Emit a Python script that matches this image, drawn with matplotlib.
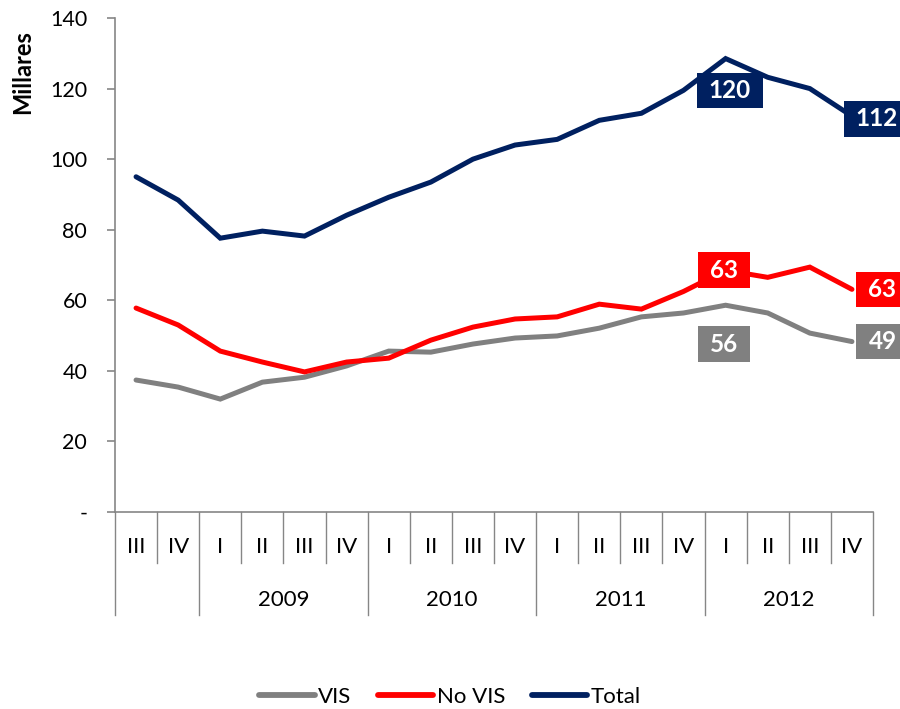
import matplotlib.pyplot as plt
from matplotlib.lines import Line2D
from matplotlib.path import Path

plt.rcParams["font.family"] = ["Lato", "DejaVu Sans"]

# Quarter labels and year groups (first two quarters belong to 2008, unlabeled)
QUARTERS = ["III", "IV", "I", "II", "III", "IV", "I", "II", "III", "IV",
            "I", "II", "III", "IV", "I", "II", "III", "IV"]
YEAR_LABELS = ["", "2009", "2010", "2011", "2012"]
YEAR_SIZES = [2, 4, 4, 4, 4]

# Series values, thousands
VIS = [37.4, 35.4, 32.0, 36.8, 38.2, 41.4, 45.6, 45.3, 47.6, 49.3,
       49.9, 52.1, 55.3, 56.4, 58.6, 56.4, 50.7, 48.3]
NO_VIS = [57.8, 53.0, 45.6, 42.5, 39.7, 42.5, 43.6, 48.7, 52.4, 54.7,
          55.3, 58.9, 57.5, 62.5, 68.5, 66.5, 69.4, 63.1]
TOTAL = [95.0, 88.4, 77.6, 79.6, 78.2, 84.1, 89.2, 93.5, 100.0, 104.0,
         105.6, 111.0, 113.0, 119.5, 128.5, 123.2, 120.0, 112.2]

# Data labels shown in boxes: (series, index, text)
LABELS = [
    ("Total", 14, "120"), ("Total", 17, "112"),
    ("No VIS", 14, "63"), ("No VIS", 17, "63"),
    ("VIS", 14, "56"), ("VIS", 17, "49"),
]

YTICKS = [0, 20, 40, 60, 80, 100, 120, 140]
YTICK_LABELS = ["-", "20", "40", "60", "80", "100", "120", "140"]

COLORS = {"VIS": "#808080", "No VIS": "#FF0000", "Total": "#002060"}
SERIES = {"VIS": VIS, "No VIS": NO_VIS, "Total": TOTAL}
AXIS_GRAY = "#868686"

# label offsets in points (dx, dy) from their data point
LABEL_OFFSETS = {
    ("Total", 14): (3, -23), ("Total", 17): (18, -2),
    ("No VIS", 14): (-1, 0), ("No VIS", 17): (22, 0),
    ("VIS", 14): (-1, -28), ("VIS", 17): (22, 0),
}


def label_box(x0, y0, width, height, mutation_size):
    """Rectangle with wider horizontal than vertical padding."""
    padx = 0.50 * mutation_size
    pady = 0.26 * mutation_size
    x0, y0 = x0 - padx, y0 - pady
    x1, y1 = x0 + width + 2 * padx, y0 + height + 2 * pady
    return Path([(x0, y0), (x1, y0), (x1, y1), (x0, y1), (x0, y0)],
                closed=True)


fig = plt.figure(figsize=(9, 7.09), dpi=100)
ax = fig.add_axes([115 / 900, 1 - 512 / 709, 758 / 900, 494 / 709])

x = list(range(len(QUARTERS)))
for name in ["VIS", "No VIS", "Total"]:
    ax.plot(x, SERIES[name], color=COLORS[name], lw=3.6,
            solid_joinstyle="miter", solid_capstyle="round", label=name,
            zorder=3)

for name, idx, text in LABELS:
    dx, dy = LABEL_OFFSETS[(name, idx)]
    ax.annotate(text, xy=(idx, SERIES[name][idx]), xytext=(dx, dy),
                textcoords="offset points", ha="center", va="center",
                color="white", fontsize=17.5, fontweight="bold",
                bbox=dict(boxstyle=label_box, fc=COLORS[name], ec="none"),
                annotation_clip=False, zorder=5)

ax.set_xlim(-0.5, len(QUARTERS) - 0.5)
ax.set_ylim(0, 140)
ax.set_yticks(YTICKS)
ax.set_yticklabels(YTICK_LABELS, fontsize=15.5)
ax.tick_params(axis="y", direction="out", length=6, width=1.2,
               color=AXIS_GRAY, pad=14)
ax.set_xticks([])

for side in ["top", "right"]:
    ax.spines[side].set_visible(False)
for side in ["left", "bottom"]:
    ax.spines[side].set_color(AXIS_GRAY)
    ax.spines[side].set_linewidth(1.2)

# category axis: quarter labels, separators and year labels below the plot
trans = ax.get_xaxis_transform()
for i, q in enumerate(QUARTERS):
    ax.text(i, -0.071, q, transform=trans, ha="center", va="center",
            fontsize=16)
long_edges = [-0.5]
start = -0.5
for year, size in zip(YEAR_LABELS, YEAR_SIZES):
    if year:
        ax.text(start + size / 2, -0.178, year, transform=trans,
                ha="center", va="center", fontsize=16)
    start += size
    long_edges.append(start)
for i in range(len(QUARTERS) + 1):
    edge = i - 0.5
    bottom = -0.208 if edge in long_edges else -0.103
    ax.add_line(Line2D([edge, edge], [0, bottom], transform=trans,
                       color=AXIS_GRAY, lw=1.0, clip_on=False))

fig.text(23 / 900, 1 - 72 / 709, "Millares", rotation=90, ha="center",
         va="center", fontsize=17, fontweight="bold")

leg = fig.legend(loc="center", bbox_to_anchor=(0.5, 1 - 697 / 709), ncol=3,
                 frameon=False, fontsize=16, handlelength=2.5,
                 handletextpad=0.15, columnspacing=1.2)
for line in leg.get_lines():
    line.set_linewidth(4.2)

fig.savefig("out.png", dpi=100)
